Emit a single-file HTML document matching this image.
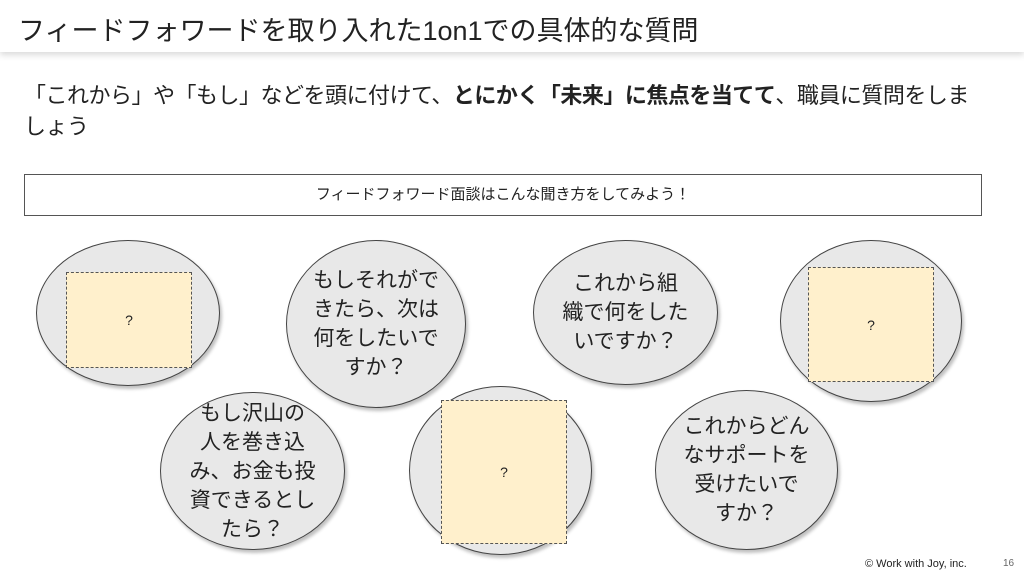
<!DOCTYPE html><html><head><meta charset="utf-8"><style>
body{margin:0;width:1024px;height:576px;background:#fff;position:relative;overflow:hidden;font-family:"Liberation Sans","Noto Sans CJK JP",sans-serif;color:#222}
.hd{position:absolute;left:0;top:0;width:1024px;height:52px;background:#fff;box-shadow:0 3px 6px rgba(0,0,0,.15)}
.t{position:absolute;left:18px;top:9px;font-size:27px;letter-spacing:0px}
.s{position:absolute;left:24px;top:80px;width:960px;font-size:22px;line-height:31px;letter-spacing:-0.5px}
.bx{position:absolute;left:24px;top:174px;width:958px;height:42px;border:1px solid #555;box-sizing:border-box;text-align:center;line-height:40px;font-size:15px}
.c{position:absolute;border:1.5px solid #444;border-radius:50%;background:#e8e8e8;box-shadow:2px 3px 3px rgba(0,0,0,.25);box-sizing:border-box;display:flex;align-items:center;justify-content:center;text-align:center;font-size:21px;line-height:29px}
.q{position:absolute;background:#fff0cc;border:1px dashed #555;box-sizing:border-box;display:flex;align-items:center;justify-content:center;font-size:14px}
.f{position:absolute;left:865px;top:558px;font-size:11px}
.n{position:absolute;left:1003px;top:558px;font-size:10px;color:#666}
</style></head><body>
<div class="hd"></div>
<div class="t">フィードフォワードを取り入れた1on1での具体的な質問</div>
<div class="s">「これから」や「もし」などを頭に付けて、<b>とにかく「未来」に焦点を当てて</b>、職員に質問をしましょう</div>
<div class="bx">フィードフォワード面談はこんな聞き方をしてみよう！</div>
<div class="c" style="left:36px;top:240px;width:184px;height:146px"></div>
<div class="c" style="left:286px;top:240px;width:180px;height:168px">もしそれがで<br>きたら、次は<br>何をしたいで<br>すか？</div>
<div class="c" style="left:533px;top:240px;width:185px;height:145px">これから組<br>織で何をした<br>いですか？</div>
<div class="c" style="left:780px;top:240px;width:182px;height:162px"></div>
<div class="c" style="left:160px;top:392px;width:185px;height:158px">もし沢山の<br>人を巻き込<br>み、お金も投<br>資できるとし<br>たら？</div>
<div class="c" style="left:409px;top:386px;width:183px;height:169px"></div>
<div class="c" style="left:655px;top:390px;width:183px;height:160px">これからどん<br>なサポートを<br>受けたいで<br>すか？</div>
<div class="q" style="left:66px;top:272px;width:126px;height:96px">?</div>
<div class="q" style="left:808px;top:267px;width:126px;height:115px">?</div>
<div class="q" style="left:441px;top:400px;width:126px;height:144px">?</div>
<div class="f">© Work with Joy, inc.</div>
<div class="n">16</div>
</body></html>
